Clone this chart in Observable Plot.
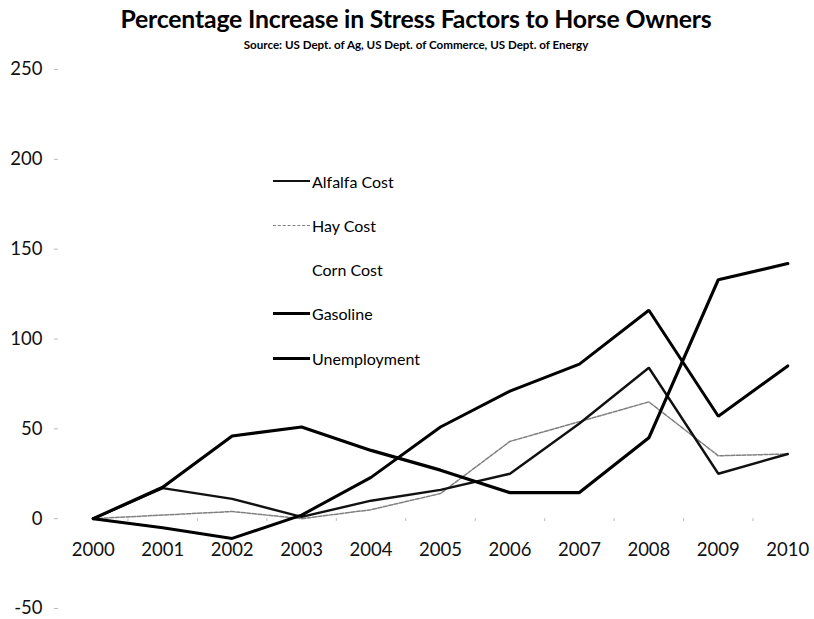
<!DOCTYPE html>
<html><head><meta charset="utf-8">
<script src="https://cdn.jsdelivr.net/npm/d3@7"></script>
<script src="https://cdn.jsdelivr.net/npm/@observablehq/plot@0.6"></script>
<style>
body{margin:0;background:#fff;font-family:Lato,"Open Sans",sans-serif;color:#000}
#wrap{position:relative;width:814px;height:619px;overflow:hidden;background:#fff}
#title{position:absolute;top:4px;left:9px;width:814px;text-align:center;font-weight:bold;font-size:24.8px;letter-spacing:-0.2px;z-index:2}
#sub{position:absolute;top:38px;left:9px;width:814px;text-align:center;font-weight:bold;font-size:11.6px;z-index:2}
#chart{position:absolute;top:0;left:0;z-index:1}
#legend{position:absolute;left:273px;top:170px;font-size:16px;z-index:3}
.item{position:absolute;left:0;height:22px;white-space:nowrap;display:flex;align-items:center}
.sw{display:inline-block;width:37px;height:0;margin-right:2px}
</style></head>
<body>
<div id="wrap">
<div id="chart"></div>
<div id="title">Percentage Increase in Stress Factors to Horse Owners</div>
<div id="sub">Source: US Dept. of Ag, US Dept. of Commerce, US Dept. of Energy</div>
<div id="legend"></div>
</div>
<script>
const years = [2000,2001,2002,2003,2004,2005,2006,2007,2008,2009,2010];
const alfalfa = [0,17,11,1,10,16,25,53,84,25,36];
const hay = [0,2,4,0,5,14,43,54,65,35,36];
const gasoline = [0,-5,-11,2,23,51,71,86,116,57,85];
const unemployment = [0,17.5,46,51,38,27,14.5,14.5,45,133,142];
const yTicks = [-50,0,50,100,150,200,250];
const seriesNames = ["Alfalfa Cost","Hay Cost","Corn Cost","Gasoline","Unemployment"];

const styles = {
  "Alfalfa Cost": {stroke:"#111", width:2.4, dash:null},
  "Hay Cost": {stroke:"#808080", width:1.5, dash:"4,1.5"},
  "Corn Cost": null,
  "Gasoline": {stroke:"#000", width:3, dash:null},
  "Unemployment": {stroke:"#000", width:3.2, dash:null}
};
const seriesData = {
  "Alfalfa Cost": alfalfa,
  "Hay Cost": hay,
  "Gasoline": gasoline,
  "Unemployment": unemployment
};
const rows = name => years.map((yr,i)=>({year:yr, value:seriesData[name][i]}));
const boundaries = d3.range(2000.5, 2010.5, 1);

const lineMarks = ["Hay Cost","Alfalfa Cost","Gasoline","Unemployment"].map(name =>
  Plot.line(rows(name), {x:"year", y:"value", stroke:styles[name].stroke,
    strokeWidth:styles[name].width, strokeDasharray:styles[name].dash, strokeLinejoin:"miter"}));

const chart = Plot.plot({
  width:814, height:619,
  marginLeft:0, marginRight:0, marginTop:69, marginBottom:11,
  style:{fontFamily:"Lato, 'Open Sans', sans-serif", background:"transparent"},
  x:{type:"linear", domain:[1999.5,2010.5], range:[58,822], axis:null},
  y:{domain:[-50,250], axis:null},
  marks:[
    Plot.ruleY(yTicks, {y:d=>d, x1:1999.44, x2:1999.5, stroke:"#bbb", strokeWidth:1}),
    Plot.ruleX(boundaries, {x:d=>d, y1:0, y2:-1.6, stroke:"#bbb", strokeWidth:1}),
    Plot.text(yTicks, {x:1999.5, y:d=>d, text:d=>String(d), dx:-16, textAnchor:"end", fontSize:18.5, fill:"#111"}),
    Plot.text(years, {x:d=>d, y:0, text:d=>String(d), dy:31, fontSize:18.5, fill:"#111"}),
    ...lineMarks
  ]
});
document.getElementById("chart").appendChild(chart);

const legend = document.getElementById("legend");
seriesNames.forEach((name,i)=>{
  const div = document.createElement("div");
  div.className = "item";
  div.style.top = (i*44.3) + "px";
  const sw = document.createElement("span");
  sw.className = "sw";
  const st = styles[name];
  if (st) {
    sw.style.borderTop = `${st.width}px ${st.dash ? "dashed" : "solid"} ${st.stroke}`;
  }
  div.appendChild(sw);
  div.appendChild(document.createTextNode(name));
  legend.appendChild(div);
});
</script>
</body></html>
